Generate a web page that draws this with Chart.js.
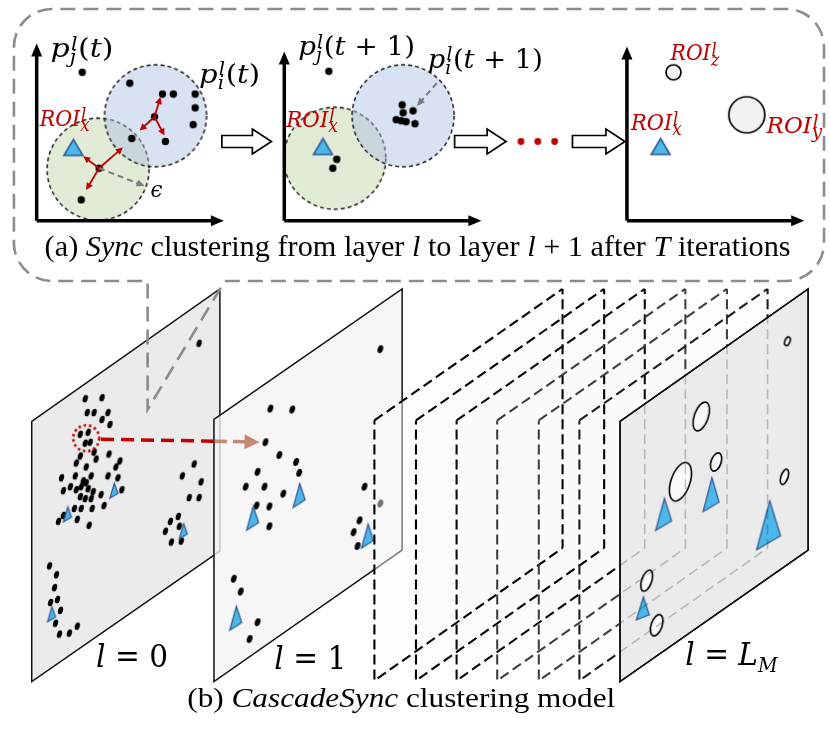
<!DOCTYPE html>
<html><head><meta charset="utf-8">
<script src="https://cdn.jsdelivr.net/npm/chart.js@4.4.1/dist/chart.umd.min.js"></script>
<style>html,body{margin:0;padding:0;background:#fff;}canvas{display:block;}</style>
</head><body>
<canvas id="c" width="830" height="738"></canvas>
<script>
// ================= DATA (diagram coordinates, x right / y down) =================
// (a) Sync clustering panels
const panel1Dots = [[79,69],[127,80],[160,91],[171,91],[193,91],[193,105],[191,122],[152,114],[163,139],[129,136],[96,166],[78,198]];
const panel2Dots = [[328,68],[402,102],[413,108],[403,110],[396,117],[401,118],[406,119],[415,121],[336,157],[332,166]];
const panelTriangles = [[70,145],[322,144],[663,144]];
const greenCircles = [[95,167],[334,156]];
const blueCircles = [[153,113],[403,113]];
const roiSmallCircle = [[676,69]];
const roiBigCircle = [[750,112]];
const ellipsisDots = [[522,139],[539,139],[556,139]];
const axisArrows = [[33,219,33,40],[33,219,222,219],[283,219,283,48],[283,219,482,219],[629,219,629,43],[629,219,808,219]];
const syncArrows = [[152,114,158,94],[152,114,162,133],[152,114,137,128],[96,166,80,154],[96,166,120,145],[96,166,83,188]];
const radiusArrows = [[96,166,142,184],[437,80,417,103]];
const stepArrows = [[220,270,139],[455,507,139],[574,627,139]];
// callout bubble
const calloutBox = [10,5,828,280];
const calloutTail = [[145,280],[145,410],[223,280]];
// (b) CascadeSync layers
const layer0 = [[28,422],[218,288],[218,553],[28,685]];
const layer1 = [[212,420],[402,288],[402,552],[212,685]];
const hiddenLayers = [
  [[374,421],[564,288],[564,550],[374,684]],
  [[416,421],[606,288],[606,550],[416,684]],
  [[457,421],[647,288],[647,550],[457,684]],
  [[498,421],[688,288],[688,550],[498,684]],
  [[540,421],[730,288],[730,550],[540,684]],
  [[581,421],[771,288],[771,550],[581,684]]
];
const layerLM = [[622,422],[812,288],[812,552],[622,685]];
const layer0Dots = [[82,399],[99,398],[84,413],[91,413],[105,413],[99,420],[107,425],[77,435],[85,433],[82,444],[87,443],
  [77,457],[91,453],[106,455],[73,464],[83,468],[93,460],[117,462],[113,468],[58,479],[72,477],[80,482],[83,484],[88,477],
  [105,477],[115,479],[60,492],[67,488],[73,491],[78,488],[85,490],[90,493],[98,496],[119,491],[77,498],[82,500],[88,500],
  [101,507],[71,510],[78,510],[89,510],[55,523],[60,517],[74,521],[86,527],
  [192,465],[180,477],[199,483],[187,499],[197,499],[176,518],[168,523],[163,533],[169,544],[177,528],[179,543],
  [197,343],
  [46,568],[53,577],[51,590],[54,602],[47,605],[57,613],[52,626],[56,637],[66,636],[74,629]];
const layer0Triangles = [[64,516],[111,492],[181,533],[48,617]];
const layer1Dots = [[269,409],[291,410],[264,443],[278,456],[295,463],[298,474],[256,473],[244,488],[263,488],[282,495],
  [255,507],[268,508],[268,528],[380,349],[364,488],[380,505],[359,522],[353,534],[357,548],[232,581],[239,594],[256,625],[248,642]];
const layer1Triangles = [[251,520],[298,497],[367,538],[234,621]];
const lmRois = [[791,341],[704,417],[683,483],[719,463],[788,478],[649,583],[659,628]];
const lmTriangles = [[666,516],[714,496],[772,527],[645,611]];
const trackedRoi = [[83,439]];
const redLink = [98,440,213,442];
const brownLink = [213,442,258,443];

// ================= STYLE HELPERS =================
function mk(w,h,draw){const c=document.createElement('canvas');c.width=Math.ceil(w);c.height=Math.ceil(h);draw(c.getContext('2d'),c.width,c.height);return c;}
const dotImg = mk(9,9,(g,w,h)=>{g.fillStyle='#000';g.beginPath();g.arc(w/2,h/2,3.7,0,7);g.fill();});
const redDotImg = mk(9,9,(g,w,h)=>{g.fillStyle='#c00000';g.beginPath();g.arc(w/2,h/2,3.4,0,7);g.fill();});
function slantDot(rx,ry,col){return mk(2*ry+3,2*ry+3,(g,w,h)=>{g.fillStyle=col||'#000';g.beginPath();g.ellipse(w/2,h/2,rx,ry,0.3,0,Math.PI*2);g.fill();});}
function dashCircle(r,fill){return mk(2*r+4,2*r+4,(g,w,h)=>{g.beginPath();g.arc(w/2,h/2,r,0,Math.PI*2);g.fillStyle=fill;g.fill();g.setLineDash([4,3]);g.lineWidth=1.4;g.strokeStyle='#111';g.stroke();});}
function roiCircle(r){return mk(2*r+4,2*r+4,(g,w,h)=>{g.beginPath();g.arc(w/2,h/2,r,0,Math.PI*2);g.fillStyle='#f2f2f2';g.fill();g.lineWidth=1.7;g.strokeStyle='#000';g.stroke();});}
function roiEllipse(rx,ry){const s=2*ry+5;return mk(s,s,(g,w,h)=>{g.beginPath();g.ellipse(w/2,h/2,rx,ry,0.33,0,Math.PI*2);g.fillStyle='#fafafa';g.fill();g.lineWidth=1.6;g.strokeStyle='#000';g.stroke();});}
function upTri(w,h){return mk(w+4,h+4,(g)=>{g.beginPath();g.moveTo(2+w/2,2);g.lineTo(2+w,2+h);g.lineTo(2,2+h);g.closePath();g.fillStyle='#4cb8ea';g.fill();g.lineWidth=1.5;g.strokeStyle='#2f5597';g.lineJoin='miter';g.stroke();});}
function slantTri(w,H,s){return mk(w+4,H+4,(g)=>{g.beginPath();g.moveTo(2+0.55*w,2);g.lineTo(2+w,2+H-w*s);g.lineTo(2,2+H);g.closePath();g.fillStyle='#4cb8ea';g.fill();g.lineWidth=1.2;g.strokeStyle='#2f5597';g.stroke();});}
function dottedCircle(r){return mk(2*r+6,2*r+6,(g,w,h)=>{g.beginPath();g.arc(w/2,h/2,r,0,Math.PI*2);g.setLineDash([2.5,2.8]);g.lineWidth=2.6;g.strokeStyle='#c00000';g.stroke();});}

const lmRoiImgs = [roiEllipse(2.5,4.5),roiEllipse(7,15),roiEllipse(9.5,20),roiEllipse(5,9.5),roiEllipse(3.5,8),roiEllipse(5,11),roiEllipse(5.5,11)];
const lmTriImgs = [slantTri(16,32,0.6),slantTri(16,34,0.6),slantTri(24,49,0.58),slantTri(13,23,0.4)];

// ================= DATASETS (painted bottom to top) =================
const pts = a => a.map(p=>({x:p[0],y:p[1]}));
const datasets = [];
const planes = {};       // dataset index -> plane style (filled from its corner points)
const hiddenIdx = [];    // dataset indices of the dashed (intermediate) layers
let lmIdx = -1;
function addPoints(arr, style){datasets.push({data:pts(arr),showLine:false,pointStyle:style,pointRadius:4,pointHoverRadius:4,borderWidth:0,backgroundColor:'#000',borderColor:'#000'});}
function addPlane(arr, fill, stroke, lw){
  planes[datasets.length] = {fill, stroke, lw};
  datasets.push({data:pts(arr),showLine:false,pointRadius:0,pointHoverRadius:0,borderWidth:0});
  return datasets.length-1;
}

addPoints(greenCircles, dashCircle(51,'rgb(226,235,213)'));
addPoints(blueCircles, dashCircle(51,'rgba(170,190,228,0.45)'));
addPoints(panel1Dots, dotImg);
addPoints(panel2Dots, dotImg);
addPoints(panelTriangles, upTri(19,16));
addPoints(roiSmallCircle, roiCircle(7.5));
addPoints(roiBigCircle, roiCircle(18));
addPoints(ellipsisDots, redDotImg);

addPlane(layer0, '#ebebeb', '#111', 1.5);
addPoints(layer0Dots, slantDot(2.5,3.9));
addPoints(layer0Triangles, slantTri(8,15,0.6));
addPoints(trackedRoi, dottedCircle(13));
addPlane(layer1, 'rgba(244,244,244,0.8)', '#111', 1.5);
addPoints(layer1Dots, slantDot(2.7,4.1));
addPoints(layer1Triangles, slantTri(12,24,0.65));
hiddenLayers.forEach(L => hiddenIdx.push(addPlane(L, 'rgba(250,250,250,0.45)', null, 0)));
lmIdx = addPlane(layerLM, 'rgba(233,233,233,0.9)', '#111', 1.5);
datasets.push({data:pts(lmRois),showLine:false,pointStyle:c=>lmRoiImgs[c.dataIndex],pointRadius:4,borderWidth:0});
datasets.push({data:pts(lmTriangles),showLine:false,pointStyle:c=>lmTriImgs[c.dataIndex],pointRadius:4,borderWidth:0});
datasets.forEach((d,i)=>{d.order = datasets.length - i; d.clip = false;});
const hiddenColors = ['#000','#000','#0a0a0a','#404040','#404040','#1e1e1e'];

// ================= TEXT =================
const red = '#c00000';
const roi = (sub)=>[['ROI','i'],['l','sup'],[sub,'sub']];
const pLab = {size:26,ss:0.68,supDy:0.3,subDy:0.22};
const rLab = {size:22,ss:0.8,supDy:0.22,subDy:0.26,color:red};
const textLabels = [
  {...pLab,x:47,y:54,w:63,parts:[['p','i'],['l','sup'],['j','sub'],['(','n'],['t','i'],[')','n']]},
  {...pLab,x:197,y:80,w:61,parts:[['p','i'],['l','sup'],['i','sub'],['(','n'],['t','i'],[')','n']]},
  {...pLab,x:297,y:52,w:117,parts:[['p','i'],['l','sup'],['j','sub'],['(','n'],['t','i'],[' + 1)','n']]},
  {...pLab,x:428,y:65,w:115,parts:[['p','i'],['l','sup'],['i','sub'],['(','n'],['t','i'],[' + 1)','n']]},
  {...rLab,x:36,y:123,w:51,parts:roi('x')},
  {...rLab,x:285,y:124,w:53,parts:roi('x')},
  {...rLab,x:673,y:57,w:50,parts:roi('z')},
  {...rLab,x:633,y:127,w:52,parts:roi('x')},
  {...rLab,x:770,y:130,w:57,parts:roi('y')},
  {x:148,y:195,size:22,w:12,parts:[['\u03F5','i']]},
  {x:41,y:255,size:29,w:746,font:"'Liberation Serif'",parts:[['(a) ','n'],['Sync','i'],[' clustering from layer ','n'],['l','i'],[' to layer ','n'],['l','i'],[' + 1 after ','n'],['T','i'],[' iterations','n']]},
  {x:185,y:711,size:27,w:428,font:"'Liberation Serif'",parts:[['(b) ','n'],['CascadeSync','i'],[' clustering model','n']]},
  {x:93,y:670,size:31,w:72,parts:[['l','i'],[' = 0','n']]},
  {x:273,y:672,size:31,w:72,parts:[['l','i'],[' = 1','n']]},
  {x:688,y:668,size:31,w:94,ss:0.65,subDy:0.22,parts:[['l','i'],[' = ','n'],['L','i'],['M','sub']]}
];

function drawMath(ctx,L){
  const fam=L.font||"'DejaVu Serif'", size=L.size, subS=size*(L.ss||0.62);
  const dyOf=k=>k==='sup'?-size*(L.supDy!=null?L.supDy:0.3):size*(L.subDy!=null?L.subDy:0.25);
  let x=0; const items=[]; const P=L.parts;
  for(let i=0;i<P.length;i++){
    const [t,k]=P[i];
    if(k==='sup'||k==='sub'){
      const f=`italic ${subS}px ${fam}`; ctx.font=f;
      let w=ctx.measureText(t).width;
      items.push({t,f,x:x+(k==='sup'?size*0.04:0),dy:dyOf(k)});
      if(i+1<P.length&&(P[i+1][1]==='sup'||P[i+1][1]==='sub')){
        const [t2,k2]=P[i+1]; const w2=ctx.measureText(t2).width;
        items.push({t:t2,f,x:x+(k2==='sup'?size*0.04:0),dy:dyOf(k2)}); w=Math.max(w,w2); i++;
      }
      x+=w+size*0.06;
    } else {
      const f=`${k==='i'?'italic ':''}${size}px ${fam}`; ctx.font=f;
      const w=ctx.measureText(t).width; items.push({t,f,x,dy:0}); x+=w;
    }
  }
  const sx=L.w?L.w/x:1;
  ctx.save(); ctx.translate(L.x,L.y); ctx.scale(sx,1);
  ctx.fillStyle=L.color||'#000'; ctx.textBaseline='alphabetic'; ctx.textAlign='left';
  for(const it of items){ctx.font=it.f; ctx.fillText(it.t,it.x,it.dy);}
  ctx.restore();
}

function dashedPolyline(ctx, P, dash){
  let di=0, rem=dash[0];
  ctx.beginPath();
  for(let i=0;i<P.length-1;i++){
    const x1=P[i][0],y1=P[i][1],x2=P[i+1][0],y2=P[i+1][1];
    const len=Math.hypot(x2-x1,y2-y1); if(len<1e-6) continue;
    const ux=(x2-x1)/len, uy=(y2-y1)/len; let pos=0;
    while(pos<len-1e-9){
      const step=Math.min(rem,len-pos);
      if(di%2===0){ctx.moveTo(x1+ux*pos,y1+uy*pos); ctx.lineTo(x1+ux*(pos+step),y1+uy*(pos+step));}
      pos+=step; rem-=step;
      if(rem<=1e-9){di=(di+1)%dash.length; rem=dash[di];}
    }
  }
  ctx.stroke();
}
function polyPath(ctx,P){ctx.moveTo(P[0][0],P[0][1]); for(let i=1;i<P.length;i++) ctx.lineTo(P[i][0],P[i][1]); ctx.closePath();}

function arrow(ctx,x1,y1,x2,y2,color,lw,hl,hw,dash){
  const a=Math.atan2(y2-y1,x2-x1), c=Math.cos(a), s=Math.sin(a);
  const bx=x2-hl*c, by=y2-hl*s;
  ctx.save(); ctx.strokeStyle=color; ctx.lineWidth=lw; ctx.setLineDash(dash||[]); ctx.lineCap='butt';
  ctx.beginPath(); ctx.moveTo(x1,y1); ctx.lineTo(bx+0.3*hl*c,by+0.3*hl*s); ctx.stroke();
  ctx.setLineDash([]); ctx.fillStyle=color; ctx.beginPath(); ctx.moveTo(x2,y2);
  ctx.lineTo(bx+hw/2*s,by-hw/2*c); ctx.lineTo(bx-hw/2*s,by+hw/2*c); ctx.closePath(); ctx.fill();
  ctx.restore();
}

const decoPlugin = {
  id:'deco',
  afterDatasetDraw(chart,args){
    const o = planes[args.index];
    if(!o) return;
    const ctx=chart.ctx, P=args.meta.data.map(e=>[e.x,e.y]);
    ctx.save(); ctx.setLineDash([]);
    ctx.beginPath(); polyPath(ctx,P);
    ctx.fillStyle=o.fill; ctx.fill();
    if(o.stroke){ctx.strokeStyle=o.stroke; ctx.lineWidth=o.lw; ctx.lineJoin='miter'; ctx.stroke();}
    ctx.restore();
  },
  afterDatasetsDraw(chart){
    const ctx=chart.ctx, X=v=>chart.scales.x.getPixelForValue(v), Y=v=>chart.scales.y.getPixelForValue(v);
    // dashed outlines of intermediate layers (faint where they lie behind layer L_M)
    const lmP = chart.getDatasetMeta(lmIdx).data.map(e=>[e.x,e.y]);
    hiddenIdx.forEach((di,k)=>{
      const P = chart.getDatasetMeta(di).data.map(e=>[e.x,e.y]); P.push(P[0]);
      ctx.save(); ctx.beginPath(); ctx.rect(0,0,chart.width,chart.height); polyPath(ctx,lmP); ctx.clip('evenodd');
      ctx.strokeStyle=hiddenColors[k]; ctx.lineWidth=2.1; ctx.lineCap='butt'; dashedPolyline(ctx,P,[10,5]); ctx.restore();
      ctx.save(); ctx.beginPath(); polyPath(ctx,lmP); ctx.clip();
      ctx.globalAlpha=0.22; ctx.strokeStyle='#000'; ctx.lineWidth=1.6; dashedPolyline(ctx,P,[10,5]); ctx.restore();
    });
    ctx.save(); ctx.beginPath(); polyPath(ctx,lmP); ctx.strokeStyle='#111'; ctx.lineWidth=1.5; ctx.stroke(); ctx.restore();
    // callout bubble
    const [L,T,R,B]=[X(calloutBox[0]),Y(calloutBox[1]),X(calloutBox[2]),Y(calloutBox[3])];
    const r=38, t0=calloutTail;
    ctx.save(); ctx.strokeStyle='#8c8c8c'; ctx.lineWidth=2.6; ctx.setLineDash([15,8]);
    ctx.beginPath(); ctx.moveTo(X(t0[2][0]),B); ctx.lineTo(R-r,B); ctx.arcTo(R,B,R,B-r,r); ctx.lineTo(R,T+r);
    ctx.arcTo(R,T,R-r,T,r); ctx.lineTo(L+r,T); ctx.arcTo(L,T,L,T+r,r); ctx.lineTo(L,B-r); ctx.arcTo(L,B,L+r,B,r);
    ctx.lineTo(X(t0[0][0]),B); ctx.lineTo(X(t0[1][0]),Y(t0[1][1])); ctx.lineTo(X(t0[2][0]),Y(t0[2][1])); ctx.stroke(); ctx.restore();
    // axes and arrows
    axisArrows.forEach(a=>arrow(ctx,X(a[0]),Y(a[1]),X(a[2]),Y(a[3]),'#000',3.5,13,11));
    syncArrows.forEach(a=>arrow(ctx,X(a[0]),Y(a[1]),X(a[2]),Y(a[3]),red,1.8,7,7));
    radiusArrows.forEach(a=>arrow(ctx,X(a[0]),Y(a[1]),X(a[2]),Y(a[3]),'#7a7a7a',2,8,7,[6,4]));
    // hollow step arrows
    stepArrows.forEach(a=>{
      const x1=X(a[0]),x2=X(a[1]),y=Y(a[2]),hl=19,sh=6,hh=12.5;
      ctx.save(); ctx.beginPath(); ctx.moveTo(x1,y-sh); ctx.lineTo(x2-hl,y-sh); ctx.lineTo(x2-hl,y-hh); ctx.lineTo(x2,y);
      ctx.lineTo(x2-hl,y+hh); ctx.lineTo(x2-hl,y+sh); ctx.lineTo(x1,y+sh); ctx.closePath();
      ctx.fillStyle='#fff'; ctx.fill(); ctx.lineWidth=1.7; ctx.strokeStyle='#000'; ctx.lineJoin='miter'; ctx.stroke(); ctx.restore();
    });
    // link between layers
    ctx.save(); ctx.strokeStyle=red; ctx.lineWidth=3.5; ctx.setLineDash([13,7]);
    ctx.beginPath(); ctx.moveTo(X(redLink[0]),Y(redLink[1])); ctx.lineTo(X(redLink[2]),Y(redLink[3])); ctx.stroke(); ctx.restore();
    arrow(ctx,X(brownLink[0]),Y(brownLink[1]),X(brownLink[2]),Y(brownLink[3]),'#c58a74',3.5,15,15,[12,6]);
    // text
    textLabels.forEach(l=>drawMath(ctx,{...l,x:X(l.x),y:Y(l.y)}));
  }
};

new Chart(document.getElementById('c'), {
  type:'line',
  data:{datasets},
  options:{
    responsive:false, animation:false, devicePixelRatio:1, events:[],
    layout:{padding:0},
    plugins:{legend:{display:false},tooltip:{enabled:false}},
    scales:{
      x:{type:'linear',min:0,max:830,display:false},
      y:{type:'linear',min:0,max:738,reverse:true,display:false}
    }
  },
  plugins:[decoPlugin]
});
</script>
</body></html>
